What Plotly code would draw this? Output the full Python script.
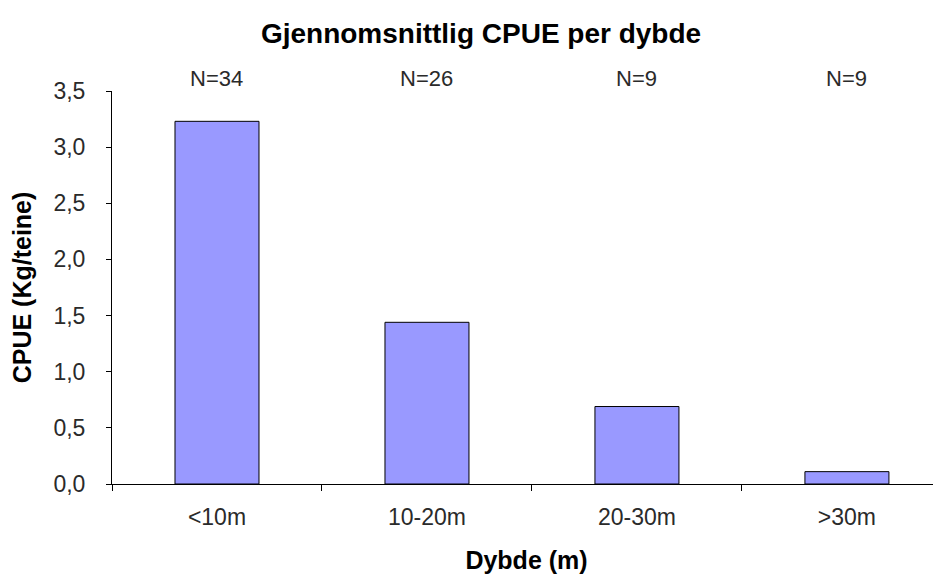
import plotly.graph_objects as go

dybder = ['<10m', '10-20m', '20-30m', '>30m']
cpue = [3.23, 1.44, 0.69, 0.11]
antall = ['N=34', 'N=26', 'N=9', 'N=9']

# siden har 8px marg i body, så figuren er litt mindre enn vinduet
fig = go.Figure()

fig.add_trace(
    go.Bar(
        x=dybder,
        y=cpue,
        width=0.4,
        marker=dict(
            color='#9999ff',
            line=dict(color='black', width=1)
        ),
        showlegend=False
    )
)

for d, n in zip(dybder, antall):
    fig.add_annotation(
        x=d, y=1, yref='paper',
        text=n, showarrow=False,
        yanchor='middle', yshift=13,
        font=dict(family='Liberation Sans, Arial', size=22, color='#2a2a2a')
    )

fig.update_layout(
    width=933,
    height=571,
    template='simple_white',
    plot_bgcolor='white',
    paper_bgcolor='white',
    separators=',.',
    margin=dict(l=104, r=0, t=83, b=95),
    font=dict(family='Liberation Sans, Arial', size=22, color='#2a2a2a'),
    title=dict(
        text='<b>Gjennomsnittlig CPUE per dybde</b>',
        x=0.507, xanchor='center',
        y=0.956, yanchor='middle',
        font=dict(family='Liberation Sans, Arial', size=28, color='black')
    ),
    xaxis=dict(
        range=[-0.5, 3.448],
        showline=True,
        linecolor='black',
        linewidth=1,
        ticks='outside',
        tickson='boundaries',
        ticklen=6,
        tickcolor='black',
        ticklabelstandoff=12,
        automargin=False,
        tickfont=dict(size=23, color='#2a2a2a'),
        title=dict(
            text='<b>Dybde (m)</b>',
            font=dict(size=25, color='black'),
            standoff=22
        )
    ),
    yaxis=dict(
        range=[0, 3.5],
        dtick=0.5,
        tickformat='.1f',
        showline=True,
        linecolor='black',
        linewidth=1,
        ticks='outside',
        ticklen=5,
        tickcolor='black',
        ticklabelstandoff=16,
        automargin=False,
        showgrid=False,
        zeroline=False,
        tickfont=dict(size=23, color='#2a2a2a'),
        title=dict(
            text='<b>CPUE (Kg/teine)</b>',
            font=dict(size=25, color='black'),
            standoff=14
        )
    )
)

fig.write_html("out.html")
